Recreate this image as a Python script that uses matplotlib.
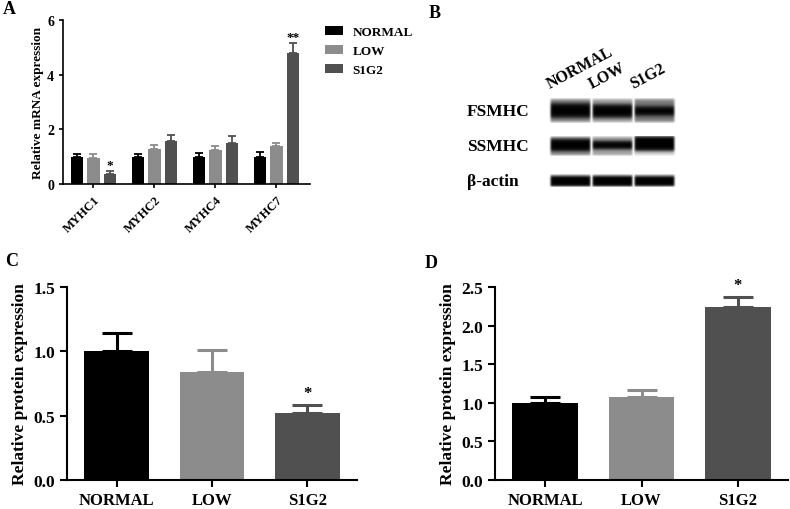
import numpy as np
import matplotlib
matplotlib.use("Agg")
import matplotlib.pyplot as plt

plt.rcParams['font.family'] = ['Liberation Serif', 'DejaVu Serif']
plt.rcParams['font.weight'] = 'bold'
plt.rcParams['axes.labelweight'] = 'bold'

# Panel A: relative mRNA expression
genes = ['MYHC1', 'MYHC2', 'MYHC4', 'MYHC7']
groups = ['NORMAL', 'LOW', 'S1G2']
mrna_normal = [1.0, 1.0, 1.0, 1.0]
mrna_normal_err = [0.08, 0.11, 0.13, 0.17]
mrna_low = [0.96, 1.29, 1.24, 1.38]
mrna_low_err = [0.15, 0.13, 0.16, 0.13]
mrna_s1g2 = [0.38, 1.57, 1.50, 4.79]
mrna_s1g2_err = [0.08, 0.22, 0.27, 0.35]
mrna_marks = ['*', '', '', '**']

# Panel C: FSMHC protein
fsmhc_vals = [1.0, 0.84, 0.52]
fsmhc_err = [0.144, 0.172, 0.063]
fsmhc_marks = ['', '', '*']

# Panel D: SSMHC protein
ssmhc_vals = [1.0, 1.07, 2.24]
ssmhc_err = [0.07, 0.09, 0.13]
ssmhc_marks = ['', '', '*']

# Panel B: blot band appearance (core center, core half width, halo darkness)
blot_rows = ['FSMHC', 'SSMHC', 'β-actin']
band_center = [[0.0, 0.04, 0.04], [-0.1, -0.1, -0.25], [0.1, 0.1, 0.1]]
band_width = [[0.58, 0.54, 0.38], [0.6, 0.42, 0.75], [0.75, 0.75, 0.72]]
band_halo = [[0.45, 0.35, 0.5], [0.45, 0.35, 0.15], [0.35, 0.35, 0.35]]

colors = ['#000000', '#8c8c8c', '#505050']

fig = plt.figure(figsize=(7.9, 5.1), dpi=100)


def style_axes(ax, lw):
    ax.spines['top'].set_visible(False)
    ax.spines['right'].set_visible(False)
    ax.spines['left'].set_linewidth(lw)
    ax.spines['bottom'].set_linewidth(lw)
    ax.tick_params(direction='out', width=lw)
    for t in ax.get_xticklabels() + ax.get_yticklabels():
        t.set_fontweight('bold')


# ---- A ----
axA = fig.add_axes([0.0797, 0.6373, 0.3127, 0.3216])
x = np.arange(len(genes))
series = [(mrna_normal, mrna_normal_err), (mrna_low, mrna_low_err), (mrna_s1g2, mrna_s1g2_err)]
for i, (vals, errs) in enumerate(series):
    pos = x + (i - 1) * 0.27
    axA.bar(pos, vals, width=0.21, color=colors[i], label=groups[i])
    axA.errorbar(pos, vals, yerr=[np.zeros(len(vals)), errs], fmt='none',
                 ecolor=colors[i], elinewidth=1.3, capsize=3.2, capthick=1.3)
for j, m in enumerate(mrna_marks):
    if m:
        axA.annotate(m, (x[j] + 0.27, mrna_s1g2[j] + mrna_s1g2_err[j]),
                     xytext=(0, 0), textcoords='offset points',
                     ha='center', va='bottom', fontsize=9.5)
axA.set_xlim(-0.5, 3.55)
axA.set_ylim(0, 6)
axA.set_yticks([0, 2, 4, 6])
axA.set_xticks(x)
axA.set_xticklabels(genes, rotation=45, ha='right', rotation_mode='anchor', fontsize=9)
axA.tick_params(axis='y', labelsize=10, length=3)
axA.tick_params(axis='x', length=3)
axA.set_ylabel('Relative mRNA expression', fontsize=9.5, labelpad=2)
style_axes(axA, 1.2)
fig.legend(loc='upper left', bbox_to_anchor=(325 / 790, 1 - 27 / 510), frameon=False,
           fontsize=9.5, handlelength=1.4, labelspacing=0.5, borderpad=0,
           borderaxespad=0, handletextpad=0.7)

# ---- B ----
axB = fig.add_axes([0.695, 0.6088, 0.1595, 0.2059])
row_h = [0.69, 0.57, 0.37]
v = np.linspace(-1, 1, 120)[:, None]
u = np.linspace(-1, 1, 120)[None, :]


def edge(d, w, s):
    return 1 / (1 + np.exp((d - w) / s))


for r in range(len(blot_rows)):
    for l in range(len(groups)):
        c = band_center[r][l]
        w = band_width[r][l]
        h = band_halo[r][l]
        dens = h * edge(np.abs(v), 0.92, 0.06) + (1 - h) * edge(np.abs(v - c), w, 0.1)
        dens = dens * edge(np.abs(u), 0.93, 0.025)
        axB.imshow(1 - dens, cmap='gray', vmin=0, vmax=1, aspect='auto',
                   extent=(l - 0.5, l + 0.5, r + row_h[r] / 2, r - row_h[r] / 2),
                   interpolation='bilinear')
    axB.text(-2.45, r, blot_rows[r], ha='left', va='center', fontsize=12.5)
for l, g in enumerate(groups):
    axB.text(l - 0.45, -0.57, g, rotation=28, rotation_mode='anchor',
             ha='left', va='bottom', fontsize=11.5, clip_on=False)
axB.set_xlim(-0.5, 2.5)
axB.set_ylim(2.5, -0.5)
axB.axis('off')

# ---- C and D ----
for rect, vals, errs, marks, ymax, ticks in [
        ([0.0848, 0.0569, 0.367, 0.3784], fsmhc_vals, fsmhc_err, fsmhc_marks, 1.5,
         [0.0, 0.5, 1.0, 1.5]),
        ([0.6266, 0.0569, 0.3709, 0.3784], ssmhc_vals, ssmhc_err, ssmhc_marks, 2.5,
         [0.0, 0.5, 1.0, 1.5, 2.0, 2.5])]:
    ax = fig.add_axes(rect)
    xp = np.arange(len(groups))
    ax.bar(xp, vals, width=0.68, color=colors)
    for i in range(len(groups)):
        ax.errorbar(xp[i], vals[i], yerr=[[0], [errs[i]]], fmt='none', ecolor=colors[i],
                    elinewidth=2.2, capsize=10.5, capthick=2.2)
        if marks[i]:
            ax.annotate(marks[i], (xp[i], vals[i] + errs[i]), xytext=(0, 3),
                        textcoords='offset points', ha='center', va='bottom', fontsize=12)
    ax.set_xlim(-0.52, 2.52)
    ax.set_ylim(0, ymax)
    ax.set_yticks(ticks)
    ax.set_yticklabels([f'{t:.1f}' for t in ticks])
    ax.set_xticks(xp)
    ax.set_xticklabels(groups, fontsize=12)
    ax.tick_params(axis='y', labelsize=12.5, length=5)
    ax.tick_params(axis='x', length=5)
    ax.set_ylabel('Relative protein expression', fontsize=12.5, labelpad=4)
    style_axes(ax, 1.5)

for lab, px, py in [('A', 9, 10), ('B', 435, 13), ('C', 12, 262), ('D', 431, 264)]:
    fig.text(px / 790, 1 - py / 510, lab, fontsize=13, ha='center', va='center')

fig.savefig('out.png', dpi=100)
